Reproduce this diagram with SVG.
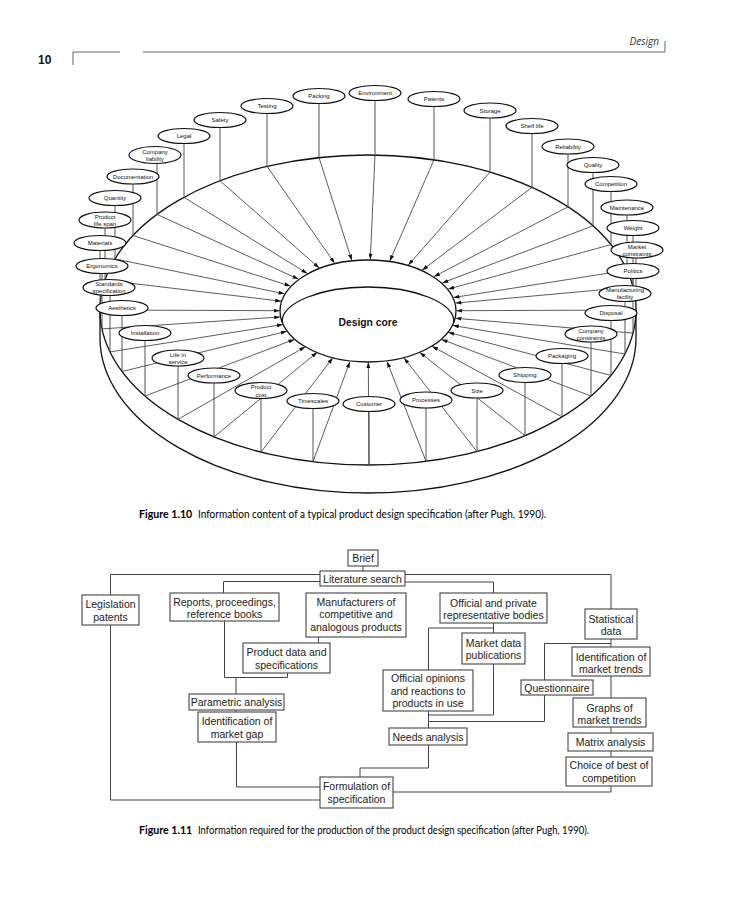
<svg xmlns="http://www.w3.org/2000/svg" width="737" height="900" viewBox="0 0 737 900">
<style>
.hdr{fill:none;stroke:#666;stroke-width:1}
.rim{fill:none;stroke:#111;stroke-width:1.3}
.core{fill:#fff;stroke:#111;stroke-width:1.3}
.spoke{stroke:#333;stroke-width:0.8;marker-end:url(#ah)}
.vl{stroke:#555;stroke-width:1}
.n ellipse{fill:#fff;stroke:#111;stroke-width:1.2}
.n text{font-family:"Liberation Sans",Arial,sans-serif;font-size:6px;text-anchor:middle;fill:#111}
.b rect{fill:#fff;stroke:#444;stroke-width:1.1}
.b text{font-family:"Liberation Sans",Arial,sans-serif;font-size:10.5px;text-anchor:middle;fill:#222}
.cn{fill:none;stroke:#444;stroke-width:1}
.cap{font-family:Lato,"Open Sans",sans-serif;font-size:10.6px;fill:#000}
</style>
<defs>
<marker id="ah" markerWidth="6" markerHeight="4" refX="6" refY="2" orient="auto" markerUnits="userSpaceOnUse"><path d="M0,0 L6,2 L0,4 z" fill="#111"/></marker>
</defs>
<rect width="737" height="900" fill="#fff"/>

<!-- page header -->
<g id="header">
<text x="659" y="45" text-anchor="end" style="font-family:'Open Sans',sans-serif;font-style:italic;font-size:10px;fill:#333">Design</text>
<path class="hdr" d="M143,52 H665 V41"/>
<path class="hdr" d="M73,65 V52 H120"/>
<text x="38" y="64" style="font-family:'Liberation Sans',Arial,sans-serif;font-weight:bold;font-size:12px;fill:#111">10</text>
</g>

<!-- Figure 1.10 ring -->
<g id="ring">
<path class="rim" d="M100,310 V338 A268,155 0 0 0 636,338 V310"/>
<ellipse class="rim" cx="368" cy="310" rx="268" ry="155"/>
</g>
<g id="design-core">
<ellipse class="core" cx="368" cy="311" rx="88" ry="51"/>
<path class="rim" d="M282,322 A86,35 0 0 1 454,322"/>
<text x="368" y="325.5" text-anchor="middle" style="font-family:'Liberation Sans',Arial,sans-serif;font-weight:bold;font-size:10.3px;fill:#111">Design core</text>
</g>

<g id="connectors-1-10">
<line class="vl" x1="267" y1="106" x2="267" y2="166.4"/><line class="spoke" x1="267" y1="166.4" x2="334.7" y2="263.3"/>
<line class="vl" x1="319" y1="96" x2="319" y2="157.6"/><line class="spoke" x1="319" y1="157.6" x2="351.8" y2="260.4"/>
<line class="vl" x1="375" y1="93" x2="375" y2="155"/><line class="spoke" x1="375" y1="155" x2="370.3" y2="259.5"/>
<line class="vl" x1="434" y1="99" x2="434" y2="159.8"/><line class="spoke" x1="434" y1="159.8" x2="389.8" y2="261.1"/>
<line class="vl" x1="490" y1="110" x2="490" y2="172"/><line class="spoke" x1="490" y1="172" x2="408.3" y2="265.1"/>
<line class="vl" x1="532" y1="126" x2="532" y2="187.4"/><line class="spoke" x1="532" y1="187.4" x2="422.1" y2="270.2"/>
<line class="vl" x1="568" y1="146" x2="568" y2="206.8"/><line class="spoke" x1="568" y1="206.8" x2="434" y2="276.6"/>
<line class="vl" x1="593" y1="165" x2="593" y2="225.8"/><line class="spoke" x1="593" y1="225.8" x2="442.3" y2="282.9"/>
<line class="vl" x1="611" y1="184" x2="611" y2="244.6"/><line class="spoke" x1="611" y1="244.6" x2="448.2" y2="289.1"/>
<line class="vl" x1="627" y1="207" x2="627" y2="270.2"/><line class="spoke" x1="627" y1="270.2" x2="453.5" y2="297.5"/>
<line class="vl" x1="633" y1="228" x2="633" y2="286.9"/><line class="spoke" x1="633" y1="286.9" x2="455.5" y2="303.1"/>
<line class="vl" x1="636" y1="250" x2="636" y2="310"/><line class="spoke" x1="636" y1="310" x2="456.4" y2="310.7"/>
<line class="vl" x1="633" y1="271" x2="633" y2="333.1"/><line class="spoke" x1="633" y1="333.1" x2="455.5" y2="318.3"/>
<line class="vl" x1="625" y1="293" x2="625" y2="354"/><line class="spoke" x1="625" y1="354" x2="452.8" y2="325.5"/>
<line class="vl" x1="611" y1="313" x2="611" y2="375.4"/><line class="spoke" x1="611" y1="375.4" x2="448.2" y2="332.3"/>
<line class="vl" x1="591" y1="334" x2="591" y2="396"/><line class="spoke" x1="591" y1="396" x2="441.6" y2="339.4"/>
<line class="vl" x1="562" y1="356" x2="562" y2="416.9"/><line class="spoke" x1="562" y1="416.9" x2="432" y2="346.3"/>
<line class="vl" x1="525" y1="375" x2="525" y2="435.6"/><line class="spoke" x1="525" y1="435.6" x2="419.8" y2="352.4"/>
<line class="vl" x1="477" y1="390" x2="477" y2="451.6"/><line class="spoke" x1="477" y1="451.6" x2="404" y2="357.9"/>
<line class="vl" x1="426" y1="400" x2="426" y2="461.3"/><line class="spoke" x1="426" y1="461.3" x2="387.1" y2="361.6"/>
<line class="vl" x1="369" y1="404" x2="369" y2="465"/><line class="spoke" x1="369" y1="465" x2="368.3" y2="362.2"/>
<line class="vl" x1="313" y1="401" x2="313" y2="461.7"/><line class="spoke" x1="313" y1="461.7" x2="349.9" y2="361.7"/>
<line class="vl" x1="261" y1="390" x2="261" y2="452.1"/><line class="spoke" x1="261" y1="452.1" x2="332.7" y2="357.9"/>
<line class="vl" x1="214" y1="375" x2="214" y2="436.9"/><line class="spoke" x1="214" y1="436.9" x2="317.2" y2="352.3"/>
<line class="vl" x1="178" y1="358" x2="178" y2="419.3"/><line class="spoke" x1="178" y1="419.3" x2="305.3" y2="346.8"/>
<line class="vl" x1="145" y1="333" x2="145" y2="396"/><line class="spoke" x1="145" y1="396" x2="294.4" y2="339.4"/>
<line class="vl" x1="122" y1="308" x2="122" y2="371.5"/><line class="spoke" x1="122" y1="371.5" x2="286.8" y2="331.3"/>
<line class="vl" x1="110" y1="287" x2="110" y2="351.9"/><line class="spoke" x1="110" y1="351.9" x2="282.9" y2="324.5"/>
<line class="vl" x1="102" y1="266" x2="102" y2="328.9"/><line class="spoke" x1="102" y1="328.9" x2="280.2" y2="317"/>
<line class="vl" x1="100" y1="243" x2="100" y2="310"/><line class="spoke" x1="100" y1="310" x2="279.6" y2="310.7"/>
<line class="vl" x1="105" y1="220" x2="105" y2="280.2"/><line class="spoke" x1="105" y1="280.2" x2="281.2" y2="301.2"/>
<line class="vl" x1="115" y1="198" x2="115" y2="258.9"/><line class="spoke" x1="115" y1="258.9" x2="284.5" y2="293.8"/>
<line class="vl" x1="133" y1="176" x2="133" y2="235.5"/><line class="spoke" x1="133" y1="235.5" x2="290.4" y2="286.1"/>
<line class="vl" x1="157" y1="155" x2="157" y2="214.4"/><line class="spoke" x1="157" y1="214.4" x2="298.4" y2="279.1"/>
<line class="vl" x1="184" y1="136" x2="184" y2="197.3"/><line class="spoke" x1="184" y1="197.3" x2="307.3" y2="273.5"/>
<line class="vl" x1="220" y1="120" x2="220" y2="180.8"/><line class="spoke" x1="220" y1="180.8" x2="319.2" y2="268"/>
</g>

<g id="n-testing" class="n"><ellipse cx="267" cy="106" rx="26" ry="7.5"/><text x="267" y="108">Testing</text></g>
<g id="n-packing" class="n"><ellipse cx="319" cy="96" rx="26" ry="7.5"/><text x="319" y="98">Packing</text></g>
<g id="n-environment" class="n"><ellipse cx="375" cy="93" rx="26" ry="7.5"/><text x="375" y="95">Environment</text></g>
<g id="n-patents" class="n"><ellipse cx="434" cy="99" rx="26" ry="7.5"/><text x="434" y="101">Patents</text></g>
<g id="n-storage" class="n"><ellipse cx="490" cy="110.5" rx="26" ry="7.5"/><text x="490" y="112.5">Storage</text></g>
<g id="n-shelf-life" class="n"><ellipse cx="532" cy="126" rx="26" ry="7.5"/><text x="532" y="128">Shelf life</text></g>
<g id="n-reliability" class="n"><ellipse cx="568" cy="146.5" rx="26" ry="7.5"/><text x="568" y="148.5">Reliability</text></g>
<g id="n-quality" class="n"><ellipse cx="593" cy="165" rx="26" ry="7.5"/><text x="593" y="167">Quality</text></g>
<g id="n-competition" class="n"><ellipse cx="611" cy="184" rx="26" ry="7.5"/><text x="611" y="186">Competition</text></g>
<g id="n-maintenance" class="n"><ellipse cx="627" cy="207.5" rx="26" ry="7.5"/><text x="627" y="209.5">Maintenance</text></g>
<g id="n-weight" class="n"><ellipse cx="633" cy="228" rx="26" ry="7.5"/><text x="633" y="230">Weight</text></g>
<g id="n-market-constraints" class="n"><ellipse cx="637" cy="250" rx="26" ry="8"/><text x="637" y="248.5">Market</text><text x="637" y="255.5">constraints</text></g>
<g id="n-politics" class="n"><ellipse cx="633" cy="271" rx="26" ry="7.5"/><text x="633" y="273">Politics</text></g>
<g id="n-manufacturing-facility" class="n"><ellipse cx="625" cy="293.5" rx="26" ry="8"/><text x="625" y="292">Manufacturing</text><text x="625" y="299">facility</text></g>
<g id="n-disposal" class="n"><ellipse cx="611" cy="313" rx="26" ry="7.5"/><text x="611" y="315">Disposal</text></g>
<g id="n-company-constraints" class="n"><ellipse cx="591" cy="334" rx="26" ry="8"/><text x="591" y="332.5">Company</text><text x="591" y="339.5">constraints</text></g>
<g id="n-packaging" class="n"><ellipse cx="562" cy="356" rx="26" ry="7.5"/><text x="562" y="358">Packaging</text></g>
<g id="n-shipping" class="n"><ellipse cx="525" cy="375" rx="26" ry="7.5"/><text x="525" y="377">Shipping</text></g>
<g id="n-size" class="n"><ellipse cx="477" cy="390.5" rx="26" ry="7.5"/><text x="477" y="392.5">Size</text></g>
<g id="n-processes" class="n"><ellipse cx="426" cy="400" rx="26" ry="8"/><text x="426" y="402">Processes</text></g>
<g id="n-customer" class="n"><ellipse cx="369" cy="404" rx="26" ry="7.5"/><text x="369" y="406">Customer</text></g>
<g id="n-timescales" class="n"><ellipse cx="313" cy="401" rx="26" ry="7.5"/><text x="313" y="403">Timescales</text></g>
<g id="n-product-cost" class="n"><ellipse cx="261" cy="390.5" rx="26" ry="8"/><text x="261" y="389">Product</text><text x="261" y="396.5">cost</text></g>
<g id="n-performance" class="n"><ellipse cx="214" cy="375.5" rx="26" ry="7.5"/><text x="214" y="377.5">Performance</text></g>
<g id="n-life-in-service" class="n"><ellipse cx="178" cy="358" rx="26" ry="8"/><text x="178" y="356.5">Life in</text><text x="178" y="363.5">service</text></g>
<g id="n-installation" class="n"><ellipse cx="145" cy="333" rx="26" ry="7.5"/><text x="145" y="335">Installation</text></g>
<g id="n-aesthetics" class="n"><ellipse cx="122" cy="308" rx="26" ry="7.5"/><text x="122" y="310">Aesthetics</text></g>
<g id="n-standards-specification" class="n"><ellipse cx="109" cy="287.5" rx="26" ry="8"/><text x="109" y="286">Standards</text><text x="109" y="293">specification</text></g>
<g id="n-ergonomics" class="n"><ellipse cx="102" cy="266" rx="26" ry="7.5"/><text x="102" y="268">Ergonomics</text></g>
<g id="n-materials" class="n"><ellipse cx="100" cy="243" rx="26" ry="7.5"/><text x="100" y="245">Materials</text></g>
<g id="n-product-life-span" class="n"><ellipse cx="105" cy="220" rx="26" ry="8"/><text x="105" y="218.5">Product</text><text x="105" y="225.5">life span</text></g>
<g id="n-quantity" class="n"><ellipse cx="115" cy="198" rx="26" ry="7.5"/><text x="115" y="200">Quantity</text></g>
<g id="n-documentation" class="n"><ellipse cx="133" cy="176.5" rx="26" ry="7.5"/><text x="133" y="178.5">Documentation</text></g>
<g id="n-company-liability" class="n"><ellipse cx="155" cy="155" rx="26" ry="8.5"/><text x="155" y="153.5">Company</text><text x="155" y="160.5">liability</text></g>
<g id="n-legal" class="n"><ellipse cx="184" cy="136" rx="26" ry="7.5"/><text x="184" y="138">Legal</text></g>
<g id="n-safety" class="n"><ellipse cx="220" cy="120" rx="26" ry="7.5"/><text x="220" y="122">Safety</text></g>

<g id="caption-1-10">
<text class="cap" x="139" y="518" style="font-weight:bold">Figure 1.10</text>
<text class="cap" x="198" y="518" textLength="348" lengthAdjust="spacingAndGlyphs">Information content of a typical product design specification (after Pugh, 1990).</text>
</g>

<!-- Figure 1.11 -->
<g id="connectors-1-11">
<path class="cn" d="M363,566 V571"/>
<path class="cn" d="M320,574.5 H110.5 V595"/>
<path class="cn" d="M320,581.5 H223.5 V593"/>
<path class="cn" d="M405,574.5 H611 V609"/>
<path class="cn" d="M405,582 H493.5 V593"/>
<path class="cn" d="M318.5,637 V643"/>
<path class="cn" d="M224.5,621 V677.5 H287.5 V673"/>
<path class="cn" d="M236,677.5 V694"/>
<path class="cn" d="M236,710 V712"/>
<path class="cn" d="M236.5,742 V787 H320"/>
<path class="cn" d="M110.5,625 V800 H320"/>
<path class="cn" d="M493.5,623 V633"/>
<path class="cn" d="M493.5,628 H428.5 V670"/>
<path class="cn" d="M493.5,664 V715 H428.5"/>
<path class="cn" d="M428.5,711 V728"/>
<path class="cn" d="M544.5,695 V721.5 H428.5"/>
<path class="cn" d="M611,639 V647"/>
<path class="cn" d="M611,643.5 H544.5 V680"/>
<path class="cn" d="M611,676 V698"/>
<path class="cn" d="M611,727 V733"/>
<path class="cn" d="M611,751 V757"/>
<path class="cn" d="M611,786 V792 H393"/>
<path class="cn" d="M428.5,745 V768 H360 V777"/>
</g>

<g id="b-brief" class="b"><rect x="348" y="550" width="30" height="16"/><text x="363" y="562">Brief</text></g>
<g id="b-literature-search" class="b"><rect x="320" y="571" width="85" height="15"/><text x="362.5" y="582.5">Literature search</text></g>
<g id="b-legislation" class="b"><rect x="82" y="595" width="57" height="30"/><text x="110.5" y="608">Legislation</text><text x="110.5" y="620.5">patents</text></g>
<g id="b-reports" class="b"><rect x="170" y="593" width="109" height="28"/><text x="224.5" y="605.5">Reports, proceedings,</text><text x="224.5" y="618">reference books</text></g>
<g id="b-manufacturers" class="b"><rect x="306" y="593" width="100" height="44"/><text x="356" y="605.5">Manufacturers of</text><text x="356" y="618.3">competitive and</text><text x="356" y="631">analogous products</text></g>
<g id="b-product-data" class="b"><rect x="243" y="643" width="87" height="30"/><text x="286.5" y="655.5">Product data and</text><text x="286.5" y="668.5">specifications</text></g>
<g id="b-parametric" class="b"><rect x="189" y="694" width="95" height="16"/><text x="236.5" y="705.5">Parametric analysis</text></g>
<g id="b-market-gap" class="b"><rect x="198" y="712" width="78" height="30"/><text x="237" y="725">Identification of</text><text x="237" y="737.5">market gap</text></g>
<g id="b-official-bodies" class="b"><rect x="440" y="593" width="107" height="30"/><text x="493.5" y="606.5">Official and private</text><text x="493.5" y="618.5">representative bodies</text></g>
<g id="b-statistical" class="b"><rect x="585" y="609" width="52" height="30"/><text x="611" y="623">Statistical</text><text x="611" y="635">data</text></g>
<g id="b-market-data" class="b"><rect x="462" y="633" width="63" height="31"/><text x="493.5" y="646.5">Market data</text><text x="493.5" y="659">publications</text></g>
<g id="b-market-trends" class="b"><rect x="572" y="647" width="78" height="29"/><text x="611" y="660.5">Identification of</text><text x="611" y="673">market trends</text></g>
<g id="b-official-opinions" class="b"><rect x="383" y="670" width="90" height="41"/><text x="428" y="682">Official opinions</text><text x="428" y="694.5">and reactions to</text><text x="428" y="706.5">products in use</text></g>
<g id="b-questionnaire" class="b"><rect x="521" y="680" width="72" height="15"/><text x="557" y="691.5">Questionnaire</text></g>
<g id="b-graphs" class="b"><rect x="573" y="698" width="73" height="29"/><text x="609.5" y="711.5">Graphs of</text><text x="609.5" y="724">market trends</text></g>
<g id="b-needs" class="b"><rect x="389" y="728" width="78" height="17"/><text x="428" y="740.5">Needs analysis</text></g>
<g id="b-matrix" class="b"><rect x="568" y="733" width="85" height="18"/><text x="610.5" y="745.5">Matrix analysis</text></g>
<g id="b-choice" class="b"><rect x="566" y="757" width="86" height="29"/><text x="609" y="769">Choice of best of</text><text x="609" y="781.5">competition</text></g>
<g id="b-formulation" class="b"><rect x="320" y="777" width="73" height="31"/><text x="356.5" y="790">Formulation of</text><text x="356.5" y="802.5">specification</text></g>

<g id="caption-1-11">
<text class="cap" x="139" y="834" style="font-weight:bold">Figure 1.11</text>
<text class="cap" x="198" y="834" textLength="391" lengthAdjust="spacingAndGlyphs">Information required for the production of the product design specification (after Pugh, 1990).</text>
</g>
</svg>
